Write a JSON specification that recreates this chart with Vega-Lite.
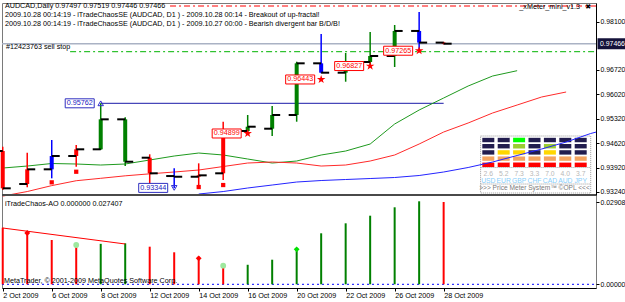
{
  "$schema": "https://vega.github.io/schema/vega-lite/v6.json",
  "width": 594,
  "height": 285,
  "autosize": {"type": "none"},
  "padding": {"left": 2, "top": 3, "right": 29, "bottom": 14},
  "background": "#ffffff",
  "config": {
    "view": {"stroke": "#7a7a7a", "strokeWidth": 1},
    "font": "Liberation Sans",
    "axis": {"grid": false, "labelFont": "Liberation Sans", "labelFontSize": 7.2, "labelColor": "#000000", "tickColor": "#000000", "domainColor": "#000000"}
  },
  "datasets": {
    "bars": [
      {"i": 0, "o": 0.94398, "h": 0.94521, "l": 0.93284, "c": 0.93332, "bar": "red", "ao": 0.0200, "aoc": "red"},
      {"i": 1, "o": 0.93455, "h": 0.94350, "l": 0.93361, "c": 0.93875, "bar": "red", "ao": 0.01859, "aoc": "red"},
      {"i": 2, "o": 0.93875, "h": 0.94713, "l": 0.93618, "c": 0.94255, "bar": "blue", "ao": 0.01565, "aoc": "red"},
      {"i": 3, "o": 0.94255, "h": 0.94570, "l": 0.93949, "c": 0.94447, "bar": "red", "ao": 0.01424, "aoc": "red"},
      {"i": 4, "o": 0.94447, "h": 0.95762, "l": 0.94427, "c": 0.95304, "bar": "green", "ao": 0.01430, "aoc": "green"},
      {"i": 5, "o": 0.95304, "h": 0.95362, "l": 0.93969, "c": 0.94092, "bar": "green", "ao": 0.01449, "aoc": "green"},
      {"i": 6, "o": 0.94207, "h": 0.94304, "l": 0.93455, "c": 0.93761, "bar": "red", "ao": 0.01329, "aoc": "red"},
      {"i": 7, "o": 0.93683, "h": 0.93904, "l": 0.93344, "c": 0.93663, "bar": "blue", "ao": 0.01131, "aoc": "red"},
      {"i": 8, "o": 0.93663, "h": 0.94046, "l": 0.93378, "c": 0.93703, "bar": "red", "ao": 0.00975, "aoc": "red"},
      {"i": 9, "o": 0.93761, "h": 0.95236, "l": 0.93569, "c": 0.94970, "bar": "red", "ao": 0.00682, "aoc": "red"},
      {"i": 10, "o": 0.94970, "h": 0.95428, "l": 0.94904, "c": 0.95093, "bar": "green", "ao": 0.00690, "aoc": "green"},
      {"i": 11, "o": 0.95036, "h": 0.95685, "l": 0.94827, "c": 0.95428, "bar": "green", "ao": 0.00869, "aoc": "green"},
      {"i": 12, "o": 0.95428, "h": 0.96951, "l": 0.95236, "c": 0.96905, "bar": "green", "ao": 0.01272, "aoc": "green"},
      {"i": 13, "o": 0.96905, "h": 0.97743, "l": 0.96620, "c": 0.96637, "bar": "blue", "ao": 0.01802, "aoc": "green"},
      {"i": 14, "o": 0.96637, "h": 0.97200, "l": 0.96379, "c": 0.96943, "bar": "green", "ao": 0.02155, "aoc": "green"},
      {"i": 15, "o": 0.96943, "h": 0.97800, "l": 0.96828, "c": 0.97114, "bar": "green", "ao": 0.02424, "aoc": "green"},
      {"i": 16, "o": 0.97114, "h": 0.98000, "l": 0.96800, "c": 0.97830, "bar": "green", "ao": 0.02721, "aoc": "green"},
      {"i": 17, "o": 0.97830, "h": 0.98372, "l": 0.97286, "c": 0.97497, "bar": "blue", "ao": 0.02933, "aoc": "green"},
      {"i": 18, "o": 0.97497, "h": 0.97519, "l": 0.97446, "c": 0.97466, "bar": "red", "ao": 0.02908, "aoc": "red"}
    ],
    "gator": [
      {"i": 0, "line": "lips", "v": 0.93912}, {"i": 1, "line": "lips", "v": 0.93969}, {"i": 2, "line": "lips", "v": 0.94041},
      {"i": 3, "line": "lips", "v": 0.94027}, {"i": 4, "line": "lips", "v": 0.93998}, {"i": 5, "line": "lips", "v": 0.94027},
      {"i": 6, "line": "lips", "v": 0.94141}, {"i": 7, "line": "lips", "v": 0.94255}, {"i": 8, "line": "lips", "v": 0.94341},
      {"i": 9, "line": "lips", "v": 0.94284}, {"i": 10, "line": "lips", "v": 0.94170}, {"i": 11, "line": "lips", "v": 0.94055},
      {"i": 12, "line": "lips", "v": 0.94112}, {"i": 13, "line": "lips", "v": 0.94284}, {"i": 14, "line": "lips", "v": 0.94398},
      {"i": 15, "line": "lips", "v": 0.94598}, {"i": 16, "line": "lips", "v": 0.95170}, {"i": 17, "line": "lips", "v": 0.95570},
      {"i": 18, "line": "lips", "v": 0.95913}, {"i": 19, "line": "lips", "v": 0.96256}, {"i": 20, "line": "lips", "v": 0.96542},
      {"i": 21, "line": "lips", "v": 0.96694},
      {"i": 0, "line": "teeth", "v": 0.93110}, {"i": 1, "line": "teeth", "v": 0.93240}, {"i": 2, "line": "teeth", "v": 0.93409},
      {"i": 3, "line": "teeth", "v": 0.93549}, {"i": 4, "line": "teeth", "v": 0.93618}, {"i": 5, "line": "teeth", "v": 0.93689},
      {"i": 6, "line": "teeth", "v": 0.93746}, {"i": 7, "line": "teeth", "v": 0.93798}, {"i": 8, "line": "teeth", "v": 0.93855},
      {"i": 9, "line": "teeth", "v": 0.93955}, {"i": 10, "line": "teeth", "v": 0.94055}, {"i": 11, "line": "teeth", "v": 0.94084},
      {"i": 12, "line": "teeth", "v": 0.94055}, {"i": 13, "line": "teeth", "v": 0.93969}, {"i": 14, "line": "teeth", "v": 0.93998},
      {"i": 15, "line": "teeth", "v": 0.94112}, {"i": 16, "line": "teeth", "v": 0.94284}, {"i": 17, "line": "teeth", "v": 0.94598},
      {"i": 18, "line": "teeth", "v": 0.94941}, {"i": 19, "line": "teeth", "v": 0.95199}, {"i": 20, "line": "teeth", "v": 0.95485},
      {"i": 21, "line": "teeth", "v": 0.95713}, {"i": 22, "line": "teeth", "v": 0.95942}, {"i": 23, "line": "teeth", "v": 0.96085},
      {"i": 8, "line": "jaw", "v": 0.93169}, {"i": 9, "line": "jaw", "v": 0.93240}, {"i": 10, "line": "jaw", "v": 0.93341},
      {"i": 11, "line": "jaw", "v": 0.93426}, {"i": 12, "line": "jaw", "v": 0.93512}, {"i": 13, "line": "jaw", "v": 0.93555},
      {"i": 14, "line": "jaw", "v": 0.93584}, {"i": 15, "line": "jaw", "v": 0.93612}, {"i": 16, "line": "jaw", "v": 0.93641},
      {"i": 17, "line": "jaw", "v": 0.93698}, {"i": 18, "line": "jaw", "v": 0.93798}, {"i": 19, "line": "jaw", "v": 0.93927},
      {"i": 20, "line": "jaw", "v": 0.94084}, {"i": 21, "line": "jaw", "v": 0.94270}, {"i": 22, "line": "jaw", "v": 0.94455},
      {"i": 23, "line": "jaw", "v": 0.94655}, {"i": 24, "line": "jaw", "v": 0.94898}, {"i": 25, "line": "jaw", "v": 0.95084}
    ],
    "squares": [{"i": 2, "p": 0.93503}, {"i": 3, "p": 0.93806}, {"i": 8, "p": 0.93369}, {"i": 9, "p": 0.93426}],
    "stops": [{"i": 10, "p": 0.94899}, {"i": 13, "p": 0.96443}, {"i": 15, "p": 0.96827}, {"i": 17, "p": 0.97265}],
    "fractals": [{"i": 4, "p": 0.95762, "dir": "up"}, {"i": 7, "p": 0.93344, "dir": "down"}],
    "aomarks": [
      {"i": 1, "v": 0.01813, "kind": "sell"}, {"i": 8, "v": 0.00919, "kind": "sell"},
      {"i": 3, "v": 0.01389, "kind": "smile"}, {"i": 9, "v": 0.00657, "kind": "smile"},
      {"i": 12, "v": 0.01237, "kind": "buy"}
    ],
    "meter": [
      {"cur": "USD", "ci": 0, "level": 1, "lit": true}, {"cur": "USD", "ci": 0, "level": 2, "lit": true}, {"cur": "USD", "ci": 0, "level": 3, "lit": false}, {"cur": "USD", "ci": 0, "level": 4, "lit": false}, {"cur": "USD", "ci": 0, "level": 5, "lit": false},
      {"cur": "EUR", "ci": 1, "level": 1, "lit": true}, {"cur": "EUR", "ci": 1, "level": 2, "lit": true}, {"cur": "EUR", "ci": 1, "level": 3, "lit": true}, {"cur": "EUR", "ci": 1, "level": 4, "lit": false}, {"cur": "EUR", "ci": 1, "level": 5, "lit": false},
      {"cur": "GBP", "ci": 2, "level": 1, "lit": true}, {"cur": "GBP", "ci": 2, "level": 2, "lit": true}, {"cur": "GBP", "ci": 2, "level": 3, "lit": true}, {"cur": "GBP", "ci": 2, "level": 4, "lit": true}, {"cur": "GBP", "ci": 2, "level": 5, "lit": true},
      {"cur": "CHF", "ci": 3, "level": 1, "lit": true}, {"cur": "CHF", "ci": 3, "level": 2, "lit": true}, {"cur": "CHF", "ci": 3, "level": 3, "lit": false}, {"cur": "CHF", "ci": 3, "level": 4, "lit": false}, {"cur": "CHF", "ci": 3, "level": 5, "lit": false},
      {"cur": "CAD", "ci": 4, "level": 1, "lit": true}, {"cur": "CAD", "ci": 4, "level": 2, "lit": true}, {"cur": "CAD", "ci": 4, "level": 3, "lit": true}, {"cur": "CAD", "ci": 4, "level": 4, "lit": true}, {"cur": "CAD", "ci": 4, "level": 5, "lit": false},
      {"cur": "AUD", "ci": 5, "level": 1, "lit": true}, {"cur": "AUD", "ci": 5, "level": 2, "lit": true}, {"cur": "AUD", "ci": 5, "level": 3, "lit": false}, {"cur": "AUD", "ci": 5, "level": 4, "lit": false}, {"cur": "AUD", "ci": 5, "level": 5, "lit": false},
      {"cur": "JPY", "ci": 6, "level": 1, "lit": true}, {"cur": "JPY", "ci": 6, "level": 2, "lit": true}, {"cur": "JPY", "ci": 6, "level": 3, "lit": false}, {"cur": "JPY", "ci": 6, "level": 4, "lit": false}, {"cur": "JPY", "ci": 6, "level": 5, "lit": false}
    ],
    "meterv": [
      {"cur": "USD", "ci": 0, "val": 2.6}, {"cur": "EUR", "ci": 1, "val": 5.2}, {"cur": "GBP", "ci": 2, "val": 7.3},
      {"cur": "CHF", "ci": 3, "val": 3.3}, {"cur": "CAD", "ci": 4, "val": 7.0}, {"cur": "AUD", "ci": 5, "val": 4.0},
      {"cur": "JPY", "ci": 6, "val": 3.7}
    ]
  },
  "layer": [
    {
      "data": {"values": [{"box": "Price Meter System"}]},
      "mark": {"type": "rect", "fill": "#ffffff", "stroke": "#9a9a9a", "strokeWidth": 1, "strokeDash": [1, 1]},
      "encoding": {
        "x": {"datum": -0.5, "type": "quantitative", "scale": {"domain": [-0.5, 6.5], "range": [478.6, 586.4], "nice": false, "zero": false}, "axis": null},
        "x2": {"datum": 6.65},
        "y": {"datum": -3.55, "type": "quantitative", "scale": {"domain": [-3.55, 5.65], "range": [190, 133], "nice": false, "zero": false}, "axis": null},
        "y2": {"datum": 5.65}
      }
    },
    {
      "data": {"values": [{"sep": 0.56}, {"sep": -2.1}]},
      "mark": {"type": "rule", "stroke": "#9a9a9a", "strokeWidth": 1, "strokeDash": [1, 1]},
      "encoding": {
        "x": {"datum": -0.5, "type": "quantitative", "scale": {"domain": [-0.5, 6.5], "range": [478.6, 586.4], "nice": false, "zero": false}, "axis": null},
        "x2": {"datum": 6.65},
        "y": {"field": "sep", "type": "quantitative", "scale": {"domain": [-3.55, 5.65], "range": [190, 133], "nice": false, "zero": false}, "axis": null}
      }
    },
    {
      "data": {"name": "meter"},
      "mark": {"type": "tick", "orient": "horizontal", "size": 12, "thickness": 4.4, "opacity": 1},
      "encoding": {
        "x": {"field": "ci", "type": "quantitative", "scale": {"domain": [-0.5, 6.5], "range": [478.6, 586.4], "nice": false, "zero": false}, "axis": null},
        "y": {"field": "level", "type": "quantitative", "scale": {"domain": [-3.55, 5.65], "range": [190, 133], "nice": false, "zero": false}, "axis": null},
        "fill": {
          "condition": {"test": "datum.lit", "field": "level", "type": "ordinal", "scale": {"domain": [1, 2, 3, 4, 5], "range": ["#ff0000", "#f4a460", "#ffd700", "#9acd32", "#00ff00"]}, "legend": null},
          "value": "#211c4e"
        }
      }
    },
    {
      "data": {"name": "meterv"},
      "mark": {"type": "text", "font": "Liberation Sans", "fontSize": 6.8, "color": "#b8b8b8", "align": "center", "baseline": "middle"},
      "encoding": {
        "x": {"field": "ci", "type": "quantitative", "scale": {"domain": [-0.5, 6.5], "range": [478.6, 586.4], "nice": false, "zero": false}, "axis": null},
        "y": {"datum": -0.48, "type": "quantitative", "scale": {"domain": [-3.55, 5.65], "range": [190, 133], "nice": false, "zero": false}, "axis": null},
        "text": {"field": "val", "type": "quantitative", "format": ".1f"}
      }
    },
    {
      "data": {"name": "meterv"},
      "mark": {"type": "text", "font": "Liberation Sans", "fontSize": 6.8, "color": "#87cefa", "align": "center", "baseline": "middle"},
      "encoding": {
        "x": {"field": "ci", "type": "quantitative", "scale": {"domain": [-0.5, 6.5], "range": [478.6, 586.4], "nice": false, "zero": false}, "axis": null},
        "y": {"datum": -1.56, "type": "quantitative", "scale": {"domain": [-3.55, 5.65], "range": [190, 133], "nice": false, "zero": false}, "axis": null},
        "text": {"field": "cur", "type": "nominal"}
      }
    },
    {
      "data": {"values": [{"t": ">>> Price Meter System™ ©OPL <<<"}]},
      "mark": {"type": "text", "font": "Liberation Sans", "fontSize": 6.6, "color": "#7a7a7a", "align": "center", "baseline": "middle"},
      "encoding": {
        "x": {"datum": 3, "type": "quantitative", "scale": {"domain": [-0.5, 6.5], "range": [478.6, 586.4], "nice": false, "zero": false}, "axis": null},
        "y": {"datum": -2.79, "type": "quantitative", "scale": {"domain": [-3.55, 5.65], "range": [190, 133], "nice": false, "zero": false}, "axis": null},
        "text": {"field": "t", "type": "nominal"}
      }
    },
    {
      "data": {"values": [{"p": 0.97466}]},
      "mark": {"type": "rule", "stroke": "#aab2c4", "strokeWidth": 1.5},
      "encoding": {
        "x": {"datum": -0.03, "type": "quantitative", "scale": {"domain": [-0.03, 24.22], "nice": false, "zero": false}, "axis": null},
        "x2": {"datum": 24.22},
        "y": {"field": "p", "type": "quantitative", "scale": {"domain": [0.93141, 0.98629], "range": [192, 0], "nice": false, "zero": false}, "axis": null}
      }
    },
    {
      "data": {"values": [{"p": 0.98543}]},
      "mark": {"type": "rule", "stroke": "#ff0000", "strokeWidth": 1, "strokeDash": [6, 3, 2, 3]},
      "encoding": {
        "x": {"datum": 6.83, "type": "quantitative", "scale": {"domain": [-0.03, 24.22], "nice": false, "zero": false}, "axis": null},
        "x2": {"datum": 24.22},
        "y": {"field": "p", "type": "quantitative", "scale": {"domain": [0.93141, 0.98629], "range": [192, 0], "nice": false, "zero": false}, "axis": null}
      }
    },
    {
      "data": {"values": [{"p": 0.97237}]},
      "mark": {"type": "rule", "stroke": "#00b400", "strokeWidth": 1, "strokeDash": [6, 3, 2, 3]},
      "encoding": {
        "x": {"datum": 2.75, "type": "quantitative", "scale": {"domain": [-0.03, 24.22], "nice": false, "zero": false}, "axis": null},
        "x2": {"datum": 24.22},
        "y": {"field": "p", "type": "quantitative", "scale": {"domain": [0.93141, 0.98629], "range": [192, 0], "nice": false, "zero": false}, "axis": null}
      }
    },
    {
      "data": {"values": [{"from": 4, "to": 18, "p": 0.95762}]},
      "mark": {"type": "rule", "stroke": "#1a1aa8", "strokeWidth": 1},
      "encoding": {
        "x": {"field": "from", "type": "quantitative", "scale": {"domain": [-0.03, 24.22], "nice": false, "zero": false}, "axis": null},
        "x2": {"field": "to"},
        "y": {"field": "p", "type": "quantitative", "scale": {"domain": [0.93141, 0.98629], "range": [192, 0], "nice": false, "zero": false}, "axis": null}
      }
    },
    {
      "data": {"name": "gator"},
      "mark": {"type": "line", "strokeWidth": 1, "clip": true},
      "encoding": {
        "x": {"field": "i", "type": "quantitative", "scale": {"domain": [-0.03, 24.22], "nice": false, "zero": false}, "axis": null},
        "y": {"field": "v", "type": "quantitative", "scale": {"domain": [0.93141, 0.98629], "range": [192, 0], "nice": false, "zero": false}, "axis": null},
        "stroke": {"field": "line", "type": "nominal", "scale": {"domain": ["jaw", "teeth", "lips"], "range": ["#2424ff", "#ff2a2a", "#1f9a1f"]}, "legend": null}
      }
    },
    {
      "data": {"name": "bars"},
      "mark": {"type": "rule", "strokeWidth": 1.5},
      "encoding": {
        "x": {"field": "i", "type": "quantitative", "scale": {"domain": [-0.03, 24.22], "nice": false, "zero": false}, "axis": null},
        "y": {"field": "l", "type": "quantitative", "title": null, "scale": {"domain": [0.93141, 0.98629], "range": [192, 0], "nice": false, "zero": false},
          "axis": {"orient": "right", "values": [0.9324, 0.9392, 0.9462, 0.9532, 0.9602, 0.9672, 0.981], "format": ".5f", "tickSize": 3, "labelPadding": 1, "labelFontSize": 6.9, "domain": true, "labelAlign": "left", "labelBaseline": "middle", "labelBound": false, "labelFlush": false, "labelOverlap": false, "title": null}},
        "y2": {"field": "h"},
        "color": {"field": "bar", "type": "nominal", "scale": {"domain": ["green", "red", "blue"], "range": ["#008000", "#ff0000", "#0000ff"]}, "legend": null}
      }
    },
    {
      "data": {"name": "bars"},
      "mark": {"type": "rule", "strokeWidth": 4},
      "encoding": {
        "x": {"field": "i", "type": "quantitative", "scale": {"domain": [-0.03, 24.22], "nice": false, "zero": false}, "axis": null},
        "y": {"field": "o", "type": "quantitative", "scale": {"domain": [0.93141, 0.98629], "range": [192, 0], "nice": false, "zero": false}, "axis": null},
        "y2": {"field": "c"},
        "color": {"field": "bar", "type": "nominal", "scale": {"domain": ["green", "red", "blue"], "range": ["#008000", "#ff0000", "#0000ff"]}, "legend": null}
      }
    },
    {
      "data": {"name": "bars"},
      "mark": {"type": "rule", "strokeWidth": 2, "stroke": "#000000", "xOffset": -8},
      "encoding": {
        "x": {"field": "i", "type": "quantitative", "scale": {"domain": [-0.03, 24.22], "nice": false, "zero": false}, "axis": null},
        "x2": {"field": "i"},
        "y": {"field": "o", "type": "quantitative", "scale": {"domain": [0.93141, 0.98629], "range": [192, 0], "nice": false, "zero": false}, "axis": null}
      }
    },
    {
      "data": {"name": "bars"},
      "mark": {"type": "rule", "strokeWidth": 2, "stroke": "#000000", "x2Offset": 8},
      "encoding": {
        "x": {"field": "i", "type": "quantitative", "scale": {"domain": [-0.03, 24.22], "nice": false, "zero": false}, "axis": null},
        "x2": {"field": "i"},
        "y": {"field": "c", "type": "quantitative", "scale": {"domain": [0.93141, 0.98629], "range": [192, 0], "nice": false, "zero": false}, "axis": null}
      }
    },
    {
      "data": {"name": "squares"},
      "mark": {"type": "point", "shape": "square", "filled": true, "fill": "#ff0000", "size": 18, "opacity": 1},
      "encoding": {
        "x": {"field": "i", "type": "quantitative", "scale": {"domain": [-0.03, 24.22], "nice": false, "zero": false}, "axis": null},
        "y": {"field": "p", "type": "quantitative", "scale": {"domain": [0.93141, 0.98629], "range": [192, 0], "nice": false, "zero": false}, "axis": null}
      }
    },
    {
      "data": {"name": "fractals"},
      "mark": {"type": "point", "filled": false, "stroke": "#3030d0", "strokeWidth": 1, "size": 30, "opacity": 1},
      "encoding": {
        "x": {"field": "i", "type": "quantitative", "scale": {"domain": [-0.03, 24.22], "nice": false, "zero": false}, "axis": null},
        "y": {"field": "p", "type": "quantitative", "scale": {"domain": [0.93141, 0.98629], "range": [192, 0], "nice": false, "zero": false}, "axis": null},
        "shape": {"field": "dir", "type": "nominal", "scale": {"domain": ["up", "down"], "range": ["triangle-up", "triangle-down"]}, "legend": null}
      }
    },
    {
      "data": {"name": "fractals"},
      "mark": {"type": "rect", "fill": "#ffffff", "stroke": "#3030c0", "strokeWidth": 1, "xOffset": -35.5, "x2Offset": -6.5, "yOffset": -4.5, "y2Offset": 4.5},
      "encoding": {
        "x": {"field": "i", "type": "quantitative", "scale": {"domain": [-0.03, 24.22], "nice": false, "zero": false}, "axis": null},
        "x2": {"field": "i"},
        "y": {"field": "p", "type": "quantitative", "scale": {"domain": [0.93141, 0.98629], "range": [192, 0], "nice": false, "zero": false}, "axis": null},
        "y2": {"field": "p"}
      }
    },
    {
      "data": {"name": "fractals"},
      "mark": {"type": "text", "font": "Liberation Sans", "fontSize": 7.2, "color": "#2020c0", "align": "right", "baseline": "middle", "dx": -8},
      "encoding": {
        "x": {"field": "i", "type": "quantitative", "scale": {"domain": [-0.03, 24.22], "nice": false, "zero": false}, "axis": null},
        "y": {"field": "p", "type": "quantitative", "scale": {"domain": [0.93141, 0.98629], "range": [192, 0], "nice": false, "zero": false}, "axis": null},
        "text": {"field": "p", "type": "quantitative", "format": ".5f"}
      }
    },
    {
      "data": {"name": "stops"},
      "mark": {"type": "point", "shape": "M0,-1L0.2245,-0.309L0.9511,-0.309L0.3633,0.118L0.5878,0.809L0,0.382L-0.5878,0.809L-0.3633,0.118L-0.9511,-0.309L-0.2245,-0.309Z", "filled": true, "fill": "#ff0000", "size": 80, "opacity": 1},
      "encoding": {
        "x": {"field": "i", "type": "quantitative", "scale": {"domain": [-0.03, 24.22], "nice": false, "zero": false}, "axis": null},
        "y": {"field": "p", "type": "quantitative", "scale": {"domain": [0.93141, 0.98629], "range": [192, 0], "nice": false, "zero": false}, "axis": null}
      }
    },
    {
      "data": {"name": "stops"},
      "mark": {"type": "rect", "fill": "#ffffff", "stroke": "#ff0000", "strokeWidth": 1, "xOffset": -35.5, "x2Offset": -6.5, "yOffset": -4.5, "y2Offset": 4.5},
      "encoding": {
        "x": {"field": "i", "type": "quantitative", "scale": {"domain": [-0.03, 24.22], "nice": false, "zero": false}, "axis": null},
        "x2": {"field": "i"},
        "y": {"field": "p", "type": "quantitative", "scale": {"domain": [0.93141, 0.98629], "range": [192, 0], "nice": false, "zero": false}, "axis": null},
        "y2": {"field": "p"}
      }
    },
    {
      "data": {"name": "stops"},
      "mark": {"type": "text", "font": "Liberation Sans", "fontSize": 7.2, "color": "#ff0000", "align": "right", "baseline": "middle", "dx": -8},
      "encoding": {
        "x": {"field": "i", "type": "quantitative", "scale": {"domain": [-0.03, 24.22], "nice": false, "zero": false}, "axis": null},
        "y": {"field": "p", "type": "quantitative", "scale": {"domain": [0.93141, 0.98629], "range": [192, 0], "nice": false, "zero": false}, "axis": null},
        "text": {"field": "p", "type": "quantitative", "format": ".5f"}
      }
    },
    {
      "data": {"values": [{"t": "AUDCAD,Daily  0.97497 0.97519 0.97446 0.97466"}]},
      "mark": {"type": "text", "font": "Liberation Sans", "fontSize": 7.2, "color": "#000000", "align": "left", "baseline": "middle"},
      "encoding": {
        "x": {"datum": 0.09, "type": "quantitative", "scale": {"domain": [-0.03, 24.22], "nice": false, "zero": false}, "axis": null},
        "y": {"datum": 0.98543, "type": "quantitative", "scale": {"domain": [0.93141, 0.98629], "range": [192, 0], "nice": false, "zero": false}, "axis": null},
        "text": {"field": "t", "type": "nominal"}
      }
    },
    {
      "data": {"values": [{"t": "2009.10.28 00:14:19  -  iTradeChaosSE (AUDCAD, D1 ) - 2009.10.28 00:14 - Breakout of up-fractal!"}]},
      "mark": {"type": "text", "font": "Liberation Sans", "fontSize": 7.2, "color": "#000000", "align": "left", "baseline": "middle"},
      "encoding": {
        "x": {"datum": 0.09, "type": "quantitative", "scale": {"domain": [-0.03, 24.22], "nice": false, "zero": false}, "axis": null},
        "y": {"datum": 0.98286, "type": "quantitative", "scale": {"domain": [0.93141, 0.98629], "range": [192, 0], "nice": false, "zero": false}, "axis": null},
        "text": {"field": "t", "type": "nominal"}
      }
    },
    {
      "data": {"values": [{"t": "2009.10.28 00:14:19  -  iTradeChaosSE (AUDCAD, D1 ) - 2009.10.27 00:00 - Bearish divergent bar B/D/B!"}]},
      "mark": {"type": "text", "font": "Liberation Sans", "fontSize": 7.2, "color": "#000000", "align": "left", "baseline": "middle"},
      "encoding": {
        "x": {"datum": 0.09, "type": "quantitative", "scale": {"domain": [-0.03, 24.22], "nice": false, "zero": false}, "axis": null},
        "y": {"datum": 0.98029, "type": "quantitative", "scale": {"domain": [0.93141, 0.98629], "range": [192, 0], "nice": false, "zero": false}, "axis": null},
        "text": {"field": "t", "type": "nominal"}
      }
    },
    {
      "data": {"values": [{"t": "#12423763 sell stop", "p": 0.97237}]},
      "mark": {"type": "text", "font": "Liberation Sans", "fontSize": 7.2, "color": "#000000", "align": "left", "baseline": "bottom", "dy": -1},
      "encoding": {
        "x": {"datum": 0.13, "type": "quantitative", "scale": {"domain": [-0.03, 24.22], "nice": false, "zero": false}, "axis": null},
        "y": {"field": "p", "type": "quantitative", "scale": {"domain": [0.93141, 0.98629], "range": [192, 0], "nice": false, "zero": false}, "axis": null},
        "text": {"field": "t", "type": "nominal"}
      }
    },
    {
      "data": {"values": [{"t": "_xMeter_mini_v1.3"}]},
      "mark": {"type": "text", "font": "Liberation Sans", "fontSize": 7.2, "color": "#000000", "align": "right", "baseline": "middle"},
      "encoding": {
        "x": {"datum": 23.57, "type": "quantitative", "scale": {"domain": [-0.03, 24.22], "nice": false, "zero": false}, "axis": null},
        "y": {"datum": 0.98515, "type": "quantitative", "scale": {"domain": [0.93141, 0.98629], "range": [192, 0], "nice": false, "zero": false}, "axis": null},
        "text": {"field": "t", "type": "nominal"}
      }
    },
    {
      "data": {"values": [{"t": "✖"}]},
      "mark": {"type": "text", "font": "DejaVu Sans", "fontSize": 7, "color": "#000000", "align": "center", "baseline": "middle"},
      "encoding": {
        "x": {"datum": 23.9, "type": "quantitative", "scale": {"domain": [-0.03, 24.22], "nice": false, "zero": false}, "axis": null},
        "y": {"datum": 0.98515, "type": "quantitative", "scale": {"domain": [0.93141, 0.98629], "range": [192, 0], "nice": false, "zero": false}, "axis": null},
        "text": {"field": "t", "type": "nominal"}
      }
    },
    {
      "data": {"values": [{"p": 0.93141}]},
      "mark": {"type": "rule", "stroke": "#4a4a4a", "strokeWidth": 2},
      "encoding": {
        "x": {"datum": -0.03, "type": "quantitative", "scale": {"domain": [-0.03, 24.22], "nice": false, "zero": false}, "axis": null},
        "x2": {"datum": 24.22},
        "y": {"field": "p", "type": "quantitative", "scale": {"domain": [0.93141, 0.98629], "range": [192, 0], "nice": false, "zero": false}, "axis": null}
      }
    },
    {
      "data": {"values": [{"p": 0.97466}]},
      "mark": {"type": "rect", "fill": "#14123a", "xOffset": 1.5, "yOffset": -5.5, "y2Offset": 5.5},
      "encoding": {
        "x": {"datum": 24.22, "type": "quantitative", "scale": {"domain": [-0.03, 24.22], "nice": false, "zero": false}, "axis": null},
        "x2": {"datum": 25.6},
        "y": {"field": "p", "type": "quantitative", "scale": {"domain": [0.93141, 0.98629], "range": [192, 0], "nice": false, "zero": false}, "axis": null},
        "y2": {"field": "p"}
      }
    },
    {
      "data": {"values": [{"p": 0.97466}]},
      "mark": {"type": "text", "font": "Liberation Sans", "fontSize": 6.9, "color": "#ffffff", "align": "left", "baseline": "middle", "dx": 4},
      "encoding": {
        "x": {"datum": 24.22, "type": "quantitative", "scale": {"domain": [-0.03, 24.22], "nice": false, "zero": false}, "axis": null},
        "y": {"field": "p", "type": "quantitative", "scale": {"domain": [0.93141, 0.98629], "range": [192, 0], "nice": false, "zero": false}, "axis": null},
        "text": {"field": "p", "type": "quantitative", "format": ".5f"}
      }
    },
    {
      "data": {"values": [{"lvl": 0}]},
      "mark": {"type": "rule", "stroke": "#0000ff", "strokeWidth": 1, "strokeDash": [2, 3]},
      "encoding": {
        "x": {"datum": -0.03, "type": "quantitative", "scale": {"domain": [-0.03, 24.22], "nice": false, "zero": false}, "axis": null},
        "x2": {"datum": 24.22},
        "y": {"field": "lvl", "type": "quantitative", "scale": {"domain": [0, 0.02908], "range": [281.3, 199], "nice": false, "zero": false}, "axis": null}
      }
    },
    {
      "data": {"name": "bars"},
      "mark": {"type": "rule", "strokeWidth": 2},
      "encoding": {
        "x": {"field": "i", "type": "quantitative", "title": null, "scale": {"domain": [-0.03, 24.22], "nice": false, "zero": false},
          "axis": {"orient": "bottom", "values": [0, 2, 4, 6, 8, 10, 12, 14, 16, 18],
            "labelExpr": "['2 Oct 2009','5 Oct 2009','6 Oct 2009','7 Oct 2009','8 Oct 2009','9 Oct 2009','12 Oct 2009','13 Oct 2009','14 Oct 2009','15 Oct 2009','16 Oct 2009','19 Oct 2009','20 Oct 2009','21 Oct 2009','22 Oct 2009','23 Oct 2009','26 Oct 2009','27 Oct 2009','28 Oct 2009'][datum.value]",
            "labelAlign": "left", "labelBaseline": "top", "labelPadding": 0, "tickSize": 3, "domain": true, "labelFlush": false, "labelOverlap": false, "labelBound": false, "title": null}},
        "y": {"field": "ao", "type": "quantitative", "title": null, "scale": {"domain": [0, 0.02908], "range": [281.3, 199], "nice": false, "zero": false},
          "axis": {"orient": "right", "values": [0, 0.02908], "format": ".5f", "domain": false, "tickSize": 3, "labelPadding": 1, "labelFontSize": 6.9, "labelAlign": "left", "labelBaseline": "middle", "labelBound": false, "labelFlush": false, "labelOverlap": false, "title": null}},
        "y2": {"datum": 0},
        "color": {"field": "aoc", "type": "nominal", "scale": {"domain": ["green", "red", "blue"], "range": ["#008000", "#ff0000", "#0000ff"]}, "legend": null}
      }
    },
    {
      "data": {"values": [{"i": 0, "v": 0.01989}, {"i": 5, "v": 0.01424}]},
      "mark": {"type": "line", "stroke": "#ff0000", "strokeWidth": 1},
      "encoding": {
        "x": {"field": "i", "type": "quantitative", "scale": {"domain": [-0.03, 24.22], "nice": false, "zero": false}, "axis": null},
        "y": {"field": "v", "type": "quantitative", "scale": {"domain": [0, 0.02908], "range": [281.3, 199], "nice": false, "zero": false}, "axis": null}
      }
    },
    {
      "data": {"name": "aomarks"},
      "mark": {"type": "point", "filled": true, "size": 34, "opacity": 1},
      "encoding": {
        "x": {"field": "i", "type": "quantitative", "scale": {"domain": [-0.03, 24.22], "nice": false, "zero": false}, "axis": null},
        "y": {"field": "v", "type": "quantitative", "scale": {"domain": [0, 0.02908], "range": [281.3, 199], "nice": false, "zero": false}, "axis": null},
        "shape": {"field": "kind", "type": "nominal", "scale": {"domain": ["sell", "buy", "smile"], "range": ["diamond", "diamond", "circle"]}, "legend": null},
        "fill": {"field": "kind", "type": "nominal", "scale": {"domain": ["sell", "buy", "smile"], "range": ["#ff0000", "#00e000", "#9ee89e"]}, "legend": null}
      }
    },
    {
      "data": {"values": [{"t": "iTradeChaos-AO 0.000000 0.027407"}]},
      "mark": {"type": "text", "font": "Liberation Sans", "fontSize": 7.2, "color": "#000000", "align": "left", "baseline": "middle"},
      "encoding": {
        "x": {"datum": 0.09, "type": "quantitative", "scale": {"domain": [-0.03, 24.22], "nice": false, "zero": false}, "axis": null},
        "y": {"datum": 0.02827, "type": "quantitative", "scale": {"domain": [0, 0.02908], "range": [281.3, 199], "nice": false, "zero": false}, "axis": null},
        "text": {"field": "t", "type": "nominal"}
      }
    },
    {
      "data": {"values": [{"t": "MetaTrader, © 2001-2009 MetaQuotes Software Corp."}]},
      "mark": {"type": "text", "font": "Liberation Sans", "fontSize": 7.2, "color": "#000000", "align": "left", "baseline": "middle"},
      "encoding": {
        "x": {"datum": 0.05, "type": "quantitative", "scale": {"domain": [-0.03, 24.22], "nice": false, "zero": false}, "axis": null},
        "y": {"datum": 0.00127, "type": "quantitative", "scale": {"domain": [0, 0.02908], "range": [281.3, 199], "nice": false, "zero": false}, "axis": null},
        "text": {"field": "t", "type": "nominal"}
      }
    }
  ],
  "resolve": {"scale": {"x": "independent", "y": "independent", "color": "independent", "fill": "independent", "stroke": "independent", "shape": "independent"}}
}
